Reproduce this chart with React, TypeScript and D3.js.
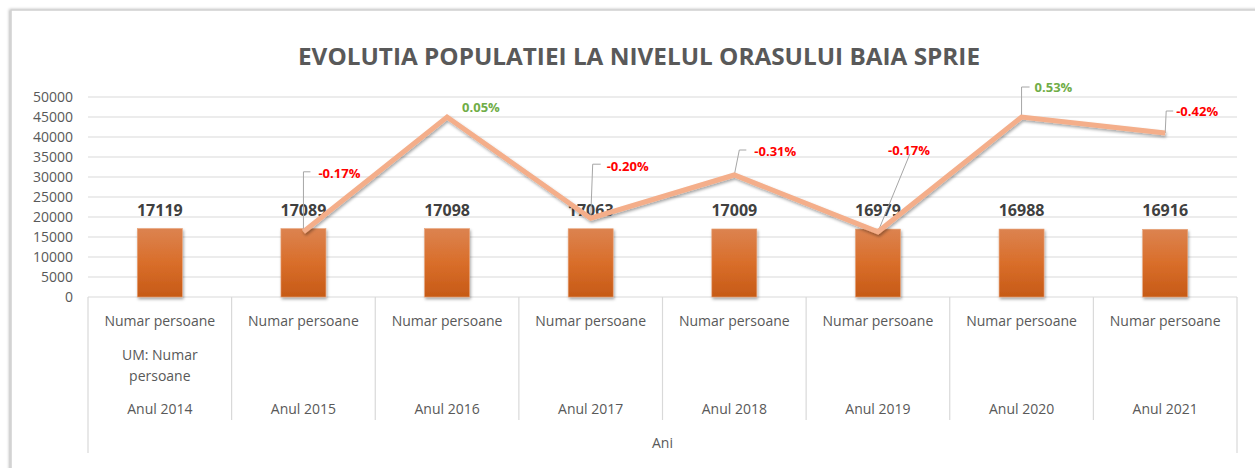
import React from "react";
import * as d3 from "d3";

const years = ["Anul 2014", "Anul 2015", "Anul 2016", "Anul 2017", "Anul 2018", "Anul 2019", "Anul 2020", "Anul 2021"];
const population = [17119, 17089, 17098, 17063, 17009, 16979, 16988, 16916];
const lineValues: (number | null)[] = [null, 16300, 45000, 19700, 30500, 16300, 45000, 41000];
const pctLabels: (string | null)[] = [null, "-0.17%", "0.05%", "-0.20%", "-0.31%", "-0.17%", "0.53%", "-0.42%"];
const yTicks = [0, 5000, 10000, 15000, 20000, 25000, 30000, 35000, 40000, 45000, 50000];
const title = "EVOLUTIA POPULATIEI LA NIVELUL ORASULUI BAIA SPRIE";
const seriesLabel = "Numar persoane";
const umLabel = ["UM: Numar", "persoane"];
const axisTitle = "Ani";

// label layout relative to the line point: text x offset, text y offset, leader polyline
const labelLayout: ({ dx: number; dy: number; anchor: string; leader: [number, number][] } | null)[] = [
  null,
  { dx: 15, dy: -59, anchor: "start", leader: [[0, 0], [0, -60], [7, -60]] },
  { dx: 15, dy: -10, anchor: "start", leader: [] },
  { dx: 16, dy: -52, anchor: "start", leader: [[0, 0], [2, -54], [10, -54]] },
  { dx: 20, dy: -24, anchor: "start", leader: [[0, 0], [5, -25], [12, -25]] },
  { dx: 31, dy: -82, anchor: "middle", leader: [[0, 0], [32, -78]] },
  { dx: 13, dy: -30, anchor: "start", leader: [[0, 0], [0, -30], [8, -30]] },
  { dx: 11, dy: -22, anchor: "start", leader: [[0, 0], [1, -22], [8, -22]] },
];

const W = 1255, H = 468;
const left = 88, right = 1237, top = 97, bottom = 297;
const font = "'Open Sans', 'Liberation Sans', sans-serif";
const grey = "#595959";

export default function App() {
  const x = d3.scaleBand<string>().domain(years).range([left, right]).paddingInner(0).paddingOuter(0);
  const y = d3.scaleLinear().domain([0, 50000]).range([bottom, top]);
  const bw = x.bandwidth();
  const barW = 45;
  const cx = (d: string) => (x(d) as number) + bw / 2;

  const linePts = years
    .map((d, i) => ({ d, v: lineValues[i], i }))
    .filter((p) => p.v !== null);
  const lineGen = d3
    .line<{ d: string; v: number | null }>()
    .x((p) => cx(p.d))
    .y((p) => y(p.v as number));

  const edges = years.map((d) => x(d) as number).concat([right]);

  return (
    <svg width={W} height={H} style={{ position: "absolute", left: 0, top: 0, background: "#fff" }} fontFamily={font}>
      <defs>
        <linearGradient id="barGrad" x1="0" y1="0" x2="0" y2="1">
          <stop offset="0%" stopColor="#DC8350" />
          <stop offset="50%" stopColor="#D96E2A" />
          <stop offset="100%" stopColor="#C65A17" />
        </linearGradient>
        <filter id="shadow" x="-10%" y="-10%" width="130%" height="130%">
          <feDropShadow dx="1" dy="2" stdDeviation="1.5" floodColor="#000" floodOpacity="0.35" />
        </filter>
        <filter id="frameShadow" x="-5%" y="-5%" width="110%" height="110%">
          <feDropShadow dx="-1" dy="0" stdDeviation="1.5" floodColor="#000" floodOpacity="0.3" />
        </filter>
      </defs>
      <rect x={0} y={0} width={W} height={H} fill="#fff" />
      <rect x={11} y={10} width={1270} height={480} fill="#fff" stroke="#D0D0D0" strokeWidth={1.5} filter="url(#frameShadow)" />

      <text x={639} y={65} textAnchor="middle" fontSize={24} fontWeight="bold" fill={grey} textLength={682} lengthAdjust="spacingAndGlyphs">
        {title}
      </text>

      {yTicks.map((t) => (
        <g key={t}>
          <line x1={left} x2={right} y1={y(t)} y2={y(t)} stroke="#D9D9D9" strokeWidth={1} />
          <text x={73} y={y(t) + 5} textAnchor="end" fontSize={14} fill={grey}>
            {t}
          </text>
        </g>
      ))}

      {/* category axis separators */}
      {edges.map((e, i) => (
        <line
          key={i}
          x1={e}
          x2={e}
          y1={bottom}
          y2={i === 0 || i === edges.length - 1 ? 453 : 420}
          stroke="#D9D9D9"
          strokeWidth={1.2}
        />
      ))}

      {/* bars */}
      {years.map((d, i) => (
        <rect
          key={d}
          x={cx(d) - barW / 2}
          y={y(population[i])}
          width={barW}
          height={bottom - y(population[i])}
          fill="url(#barGrad)"
          stroke="#E8A277"
          strokeWidth={0.6}
          filter="url(#shadow)"
        />
      ))}

      {/* bar value labels */}
      {years.map((d, i) => (
        <text key={d} x={cx(d)} y={y(population[i]) - 13} textAnchor="middle" fontSize={16} fontWeight="bold" fill="#404040">
          {population[i]}
        </text>
      ))}

      {/* leader lines */}
      {linePts.map((p) => {
        const L = labelLayout[p.i];
        if (!L || L.leader.length < 2) return null;
        const px = cx(p.d), py = y(p.v as number);
        return (
          <polyline
            key={"l" + p.i}
            points={L.leader.map(([a, b]) => `${px + a},${py + b}`).join(" ")}
            fill="none"
            stroke="#A6A6A6"
            strokeWidth={1}
          />
        );
      })}

      {/* line */}
      <path d={lineGen(linePts) || ""} fill="none" stroke="#F4AE8A" strokeWidth={5} strokeLinejoin="miter" filter="url(#shadow)" />

      {/* pct labels */}
      {linePts.map((p) => {
        const L = labelLayout[p.i];
        const lab = pctLabels[p.i];
        if (!L || !lab) return null;
        const px = cx(p.d), py = y(p.v as number);
        return (
          <text
            key={"t" + p.i}
            x={px + L.dx}
            y={py + L.dy + 5}
            textAnchor={L.anchor as any}
            fontSize={13}
            fontWeight="bold"
            fill={lab.startsWith("-") ? "#FF0000" : "#70AD47"}
          >
            {lab}
          </text>
        );
      })}

      {/* category labels */}
      {years.map((d, i) => (
        <g key={"c" + d} fontSize={14} fill={grey} textAnchor="middle">
          <text x={cx(d)} y={326}>{seriesLabel}</text>
          {i === 0 && (
            <>
              <text x={cx(d)} y={360}>{umLabel[0]}</text>
              <text x={cx(d)} y={381}>{umLabel[1]}</text>
            </>
          )}
          <text x={cx(d)} y={414}>{d}</text>
        </g>
      ))}
      <text x={(left + right) / 2} y={448} textAnchor="middle" fontSize={14} fill={grey}>
        {axisTitle}
      </text>
    </svg>
  );
}
